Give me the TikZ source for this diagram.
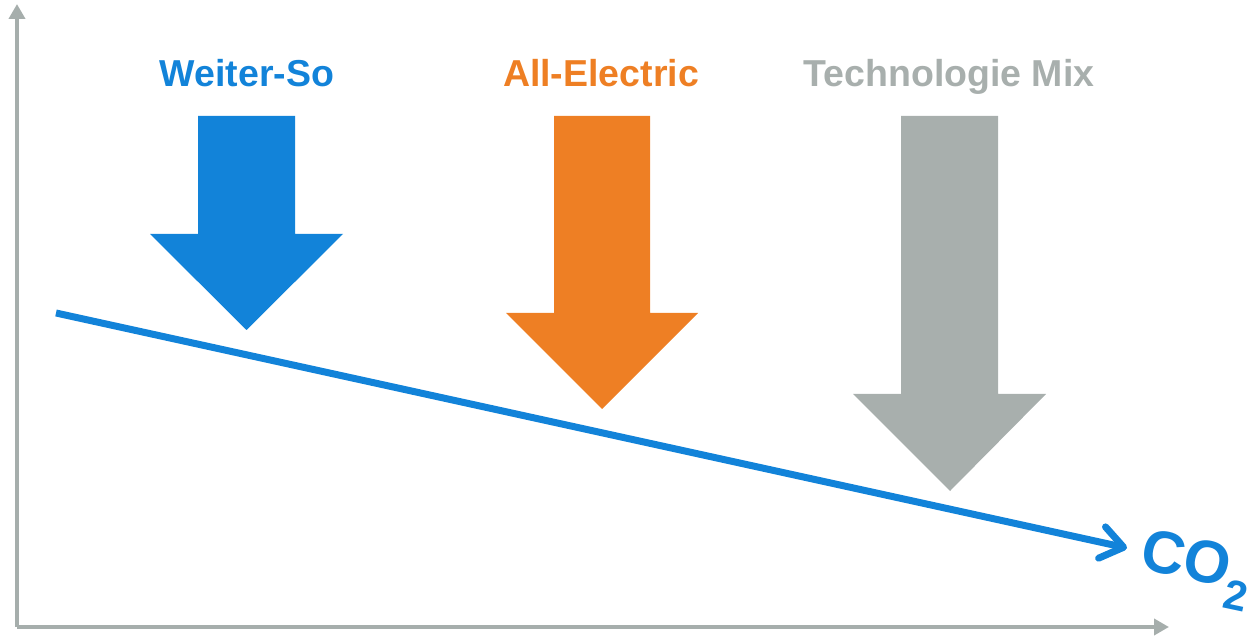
\documentclass[tikz,border=0pt]{standalone}
\usepackage{fontspec}
\setmainfont{Liberation Sans}
\usetikzlibrary{arrows.meta}

\definecolor{soblue}{RGB}{18,131,217}
\definecolor{elorange}{RGB}{238,127,36}
\definecolor{mixgray}{RGB}{168,175,173}
\definecolor{axisgray}{RGB}{166,174,172}

\begin{document}
\begin{tikzpicture}[x=1pt, y=-1pt, >={Triangle[length=15pt,width=16pt]}]

        % Styles
        \tikzstyle{title} = [anchor=base, inner sep=0pt, font=\fontsize{37.5}{44}\selectfont\bfseries]
        \tikzstyle{axis} = [draw=axisgray, line width=4pt, ->, color=axisgray]

        \useasboundingbox (0,0) rectangle (1254,636);

        % Axes
        \coordinate (origin) at (17,627);
        \coordinate (ytop) at (17,4);
        \coordinate (xend) at (1169,627);
        \draw[axis] (origin) -- (ytop);
        \draw[axis] (origin) -- (xend);

        % Titles
        \node[title, text=soblue] (weiter) at (247,87) {Weiter-So};
        \node[title, text=elorange] (electric) at (601,87) {All-Electric};
        \node[title, text=mixgray] (mix) at (949,87) {Technologie Mix};

        % Block arrows
        \fill[soblue] (198,116) -- (295,116) -- (295,234) -- (343,234) -- (246.5,330)
            -- (150,234) -- (198,234) -- cycle;
        \fill[elorange] (554,116) -- (650,116) -- (650,313) -- (698,313) -- (602,409)
            -- (506,313) -- (554,313) -- cycle;
        \fill[mixgray] (901,116) -- (998,116) -- (998,394) -- (1046,394) -- (950,491)
            -- (853,394) -- (901,394) -- cycle;

        % CO2 line
        \coordinate (start) at (56,313);
        \coordinate (end) at (1127,548);
        \node[anchor=west, inner sep=0pt, text=soblue, rotate=-12,
            font=\fontsize{60}{64}\selectfont\bfseries] (co2) at (1140,558) {CO\textsubscript{2}};
        \draw[soblue, line width=7pt, -{Straight Barb[length=22pt,width=32pt,round]}] (start) -- (end);

\end{tikzpicture}
\end{document}
